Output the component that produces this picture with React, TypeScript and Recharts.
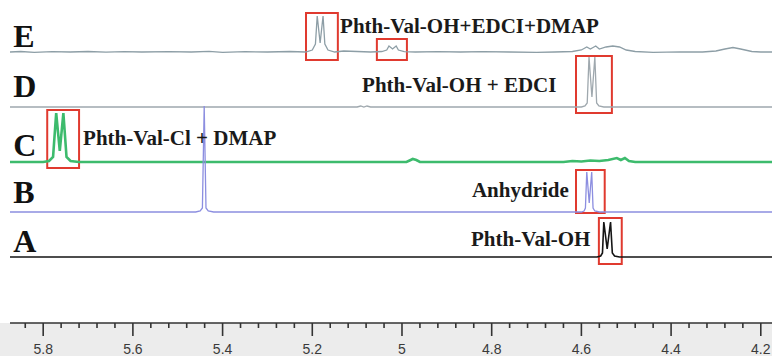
import * as React from 'react';
import { LineChart, Line, XAxis, YAxis, ReferenceArea, ReferenceDot } from 'recharts';

// chemical shift (ppm) and signal height
const spectrumE: [number, number][] = [
  [5.874, 0], [5.85, 0.5], [5.82, -0.3], [5.78, 0.4], [5.74, 0], [5.7, 0.5], [5.66, -0.2], [5.62, 0.3],
  [5.58, 0], [5.52, 0.4], [5.47, 0], [5.43, 0.6], [5.4, -0.3], [5.35, 0.3], [5.3, 0], [5.25, 0.5],
  [5.215, 0], [5.2, 2], [5.193, 8], [5.189, 36], [5.1825, 9], [5.176, 36], [5.172, 8], [5.165, 2],
  [5.15, 0], [5.13, 1], [5.1, 0.5], [5.07, 0], [5.045, 0.5], [5.034, 2], [5.029, 6], [5.021, 3],
  [5.013, 6], [5.008, 2], [4.995, 0.3], [4.97, 0], [4.92, 0.3], [4.87, 0], [4.82, 0.4], [4.76, 0],
  [4.7, -0.3], [4.66, 0], [4.62, 0.5], [4.6, 2], [4.588, 5], [4.58, 3], [4.568, 6], [4.56, 3],
  [4.545, 5], [4.53, 6], [4.515, 5], [4.5, 2], [4.48, 0.5], [4.44, -0.4], [4.38, 0.2], [4.33, 0],
  [4.3, 1], [4.28, 3], [4.262, 4.5], [4.245, 3], [4.22, 0.5], [4.2, 0], [4.175, 0],
];
const spectrumD: [number, number][] = [
  [5.874, 0], [5.5, 0], [5.1, 0], [5.092, 1], [5.085, 0], [5.078, 1], [5.07, 0], [4.6, 0],
  [4.592, 1], [4.587, 4], [4.583, 50], [4.5765, 10], [4.57, 50], [4.566, 4], [4.561, 1], [4.55, 0],
  [4.175, 0],
];
const spectrumC: [number, number][] = [
  [5.874, 0], [5.8, 0], [5.787, 1], [5.778, 5], [5.771, 49], [5.763, 11], [5.755, 49], [5.748, 5],
  [5.739, 1], [5.72, 0], [4.99, 0], [4.983, 1.5], [4.976, 3], [4.968, 2],
  [4.96, 0], [4.64, 0], [4.62, 1], [4.6, 0.5], [4.58, 1.5], [4.56, 1], [4.54, 2], [4.521, 4],
  [4.512, 2], [4.503, 4], [4.494, 1], [4.48, 0], [4.175, 0],
];
const spectrumB: [number, number][] = [
  [5.874, 0], [5.46, 0], [5.45, 1], [5.445, 4], [5.441, 106], [5.437, 4],
  [5.432, 1], [5.42, 0], [4.6, 0], [4.594, 1], [4.591, 4], [4.588, 40],
  [4.5825, 9], [4.577, 40], [4.574, 4], [4.57, 1], [4.56, 0], [4.175, 0],
];
const spectrumA: [number, number][] = [
  [5.874, 0], [4.565, 0], [4.557, 1], [4.553, 4], [4.55, 35], [4.5425, 8], [4.535, 35], [4.531, 4],
  [4.526, 1], [4.515, 0], [4.175, 0],
];

const traceLetters = ['E', 'D', 'C', 'B', 'A'];
const traceLabels = ['Phth-Val-OH+EDCI+DMAP', 'Phth-Val-OH + EDCI', 'Phth-Val-Cl + DMAP', 'Anhydride', 'Phth-Val-OH'];
const labelStartPpm = [5.138, 5.089, 5.711, 4.844, 4.846];

// boxes: ppm from, ppm to, trace index
const boxPpm: [number, number, number][] = [
  [5.214, 5.143, 0], [5.056, 4.989, 0], [4.612, 4.532, 1], [5.791, 5.72, 2], [4.612, 4.548, 3], [4.561, 4.51, 4],
];
const boxHeight: [number, number][] = [
  [-8, 39], [-8, 13], [-6, 51], [-6, 52], [-1, 42], [-7, 39],
];

const majorTicks = [5.8, 5.6, 5.4, 5.2, 5.0, 4.8, 4.6, 4.4, 4.2];

// layout
const W = 772;
const H = 356;
const AXIS_Y = 323;
const baselines = [271, 216, 161, 111, 66];
const labelLift = [19, 15, 17, 15, 11];
const letterLift = [5, 10, 6, 9, 5];
const colors = ['#8d9ea6', '#9fa8ae', '#3dbb6d', '#8c8ee0', '#151515'];
const widths = [1.3, 1.3, 2.6, 1.3, 1.6];

const allTicks: number[] = [];
majorTicks.forEach((t) => {
  allTicks.push(t);
  for (let k = 1; k <= 4; k++) {
    const v = +(t + 0.04 * k).toFixed(2);
    if (v <= 5.874 && !majorTicks.includes(v)) allTicks.push(v);
  }
});

const spectra = [spectrumE, spectrumD, spectrumC, spectrumB, spectrumA];
const traces = spectra.map((s, i) => s.map(([ppm, h]) => ({ ppm, v: h + baselines[i] })));

const Tick = (props: any) => {
  const { x, y, payload } = props;
  const v = payload.value as number;
  const major = majorTicks.some((m) => Math.abs(m - v) < 1e-6);
  return (
    <g>
      <line x1={x} x2={x} y1={y} y2={y + (major ? 13 : 5)} stroke="#333" strokeWidth={1.6} />
      {major && (
        <text x={x} y={y + 31} textAnchor="middle" fill="#3a3a3a" fontSize={14} fontFamily="Liberation Sans, Arial, sans-serif">
          {Math.abs(v - 5) < 1e-6 ? '5' : v.toFixed(1)}
        </text>
      )}
    </g>
  );
};

export default function App() {
  return (
    <div
      style={{
        position: 'absolute',
        left: 0,
        top: 0,
        width: W,
        height: H,
        background: `linear-gradient(#ffffff ${AXIS_Y}px, #ececec ${AXIS_Y}px)`,
      }}
    >
      <LineChart width={W} height={H} margin={{ top: 0, right: 0, left: 10, bottom: 0 }}>
        <XAxis
          type="number"
          dataKey="ppm"
          domain={[4.175, 5.874]}
          reversed
          allowDataOverflow
          ticks={allTicks}
          interval={0}
          tick={<Tick />}
          tickLine={false}
          tickSize={0}
          tickMargin={0}
          height={H - AXIS_Y}
          axisLine={{ stroke: '#333', strokeWidth: 1.6 }}
        />
        <YAxis type="number" domain={[0, AXIS_Y]} hide allowDataOverflow />
        {boxPpm.map(([x1, x2, t], i) => (
          <ReferenceArea
            key={`box-${i}`}
            x1={x1}
            x2={x2}
            y1={baselines[t] + boxHeight[i][0]}
            y2={baselines[t] + boxHeight[i][1]}
            stroke="#e03a2f"
            strokeWidth={2}
            fill="none"
            fillOpacity={0}
            ifOverflow="visible"
          />
        ))}
        {traces.map((d, i) => (
          <Line
            key={`trace-${i}`}
            data={d}
            dataKey="v"
            type="linear"
            stroke={colors[i]}
            strokeWidth={widths[i]}
            dot={false}
            activeDot={false}
            isAnimationActive={false}
          />
        ))}
        {traceLetters.map((l, i) => (
          <ReferenceDot
            key={`letter-${i}`}
            x={5.867}
            y={baselines[i] + letterLift[i]}
            r={0}
            ifOverflow="visible"
            shape={(p: any) => (
              <text x={p.cx} y={p.cy} fontSize={32} fontWeight="bold" fontFamily="Liberation Serif, Times New Roman, serif" fill="#111">
                {l}
              </text>
            )}
          />
        ))}
        {traceLabels.map((l, i) => (
          <ReferenceDot
            key={`label-${i}`}
            x={labelStartPpm[i]}
            y={baselines[i] + labelLift[i]}
            r={0}
            ifOverflow="visible"
            shape={(p: any) => (
              <text x={p.cx} y={p.cy} fontSize={21} fontWeight="bold" fontFamily="Liberation Serif, Times New Roman, serif" fill="#1a1a1a">
                {l}
              </text>
            )}
          />
        ))}
      </LineChart>
    </div>
  );
}
